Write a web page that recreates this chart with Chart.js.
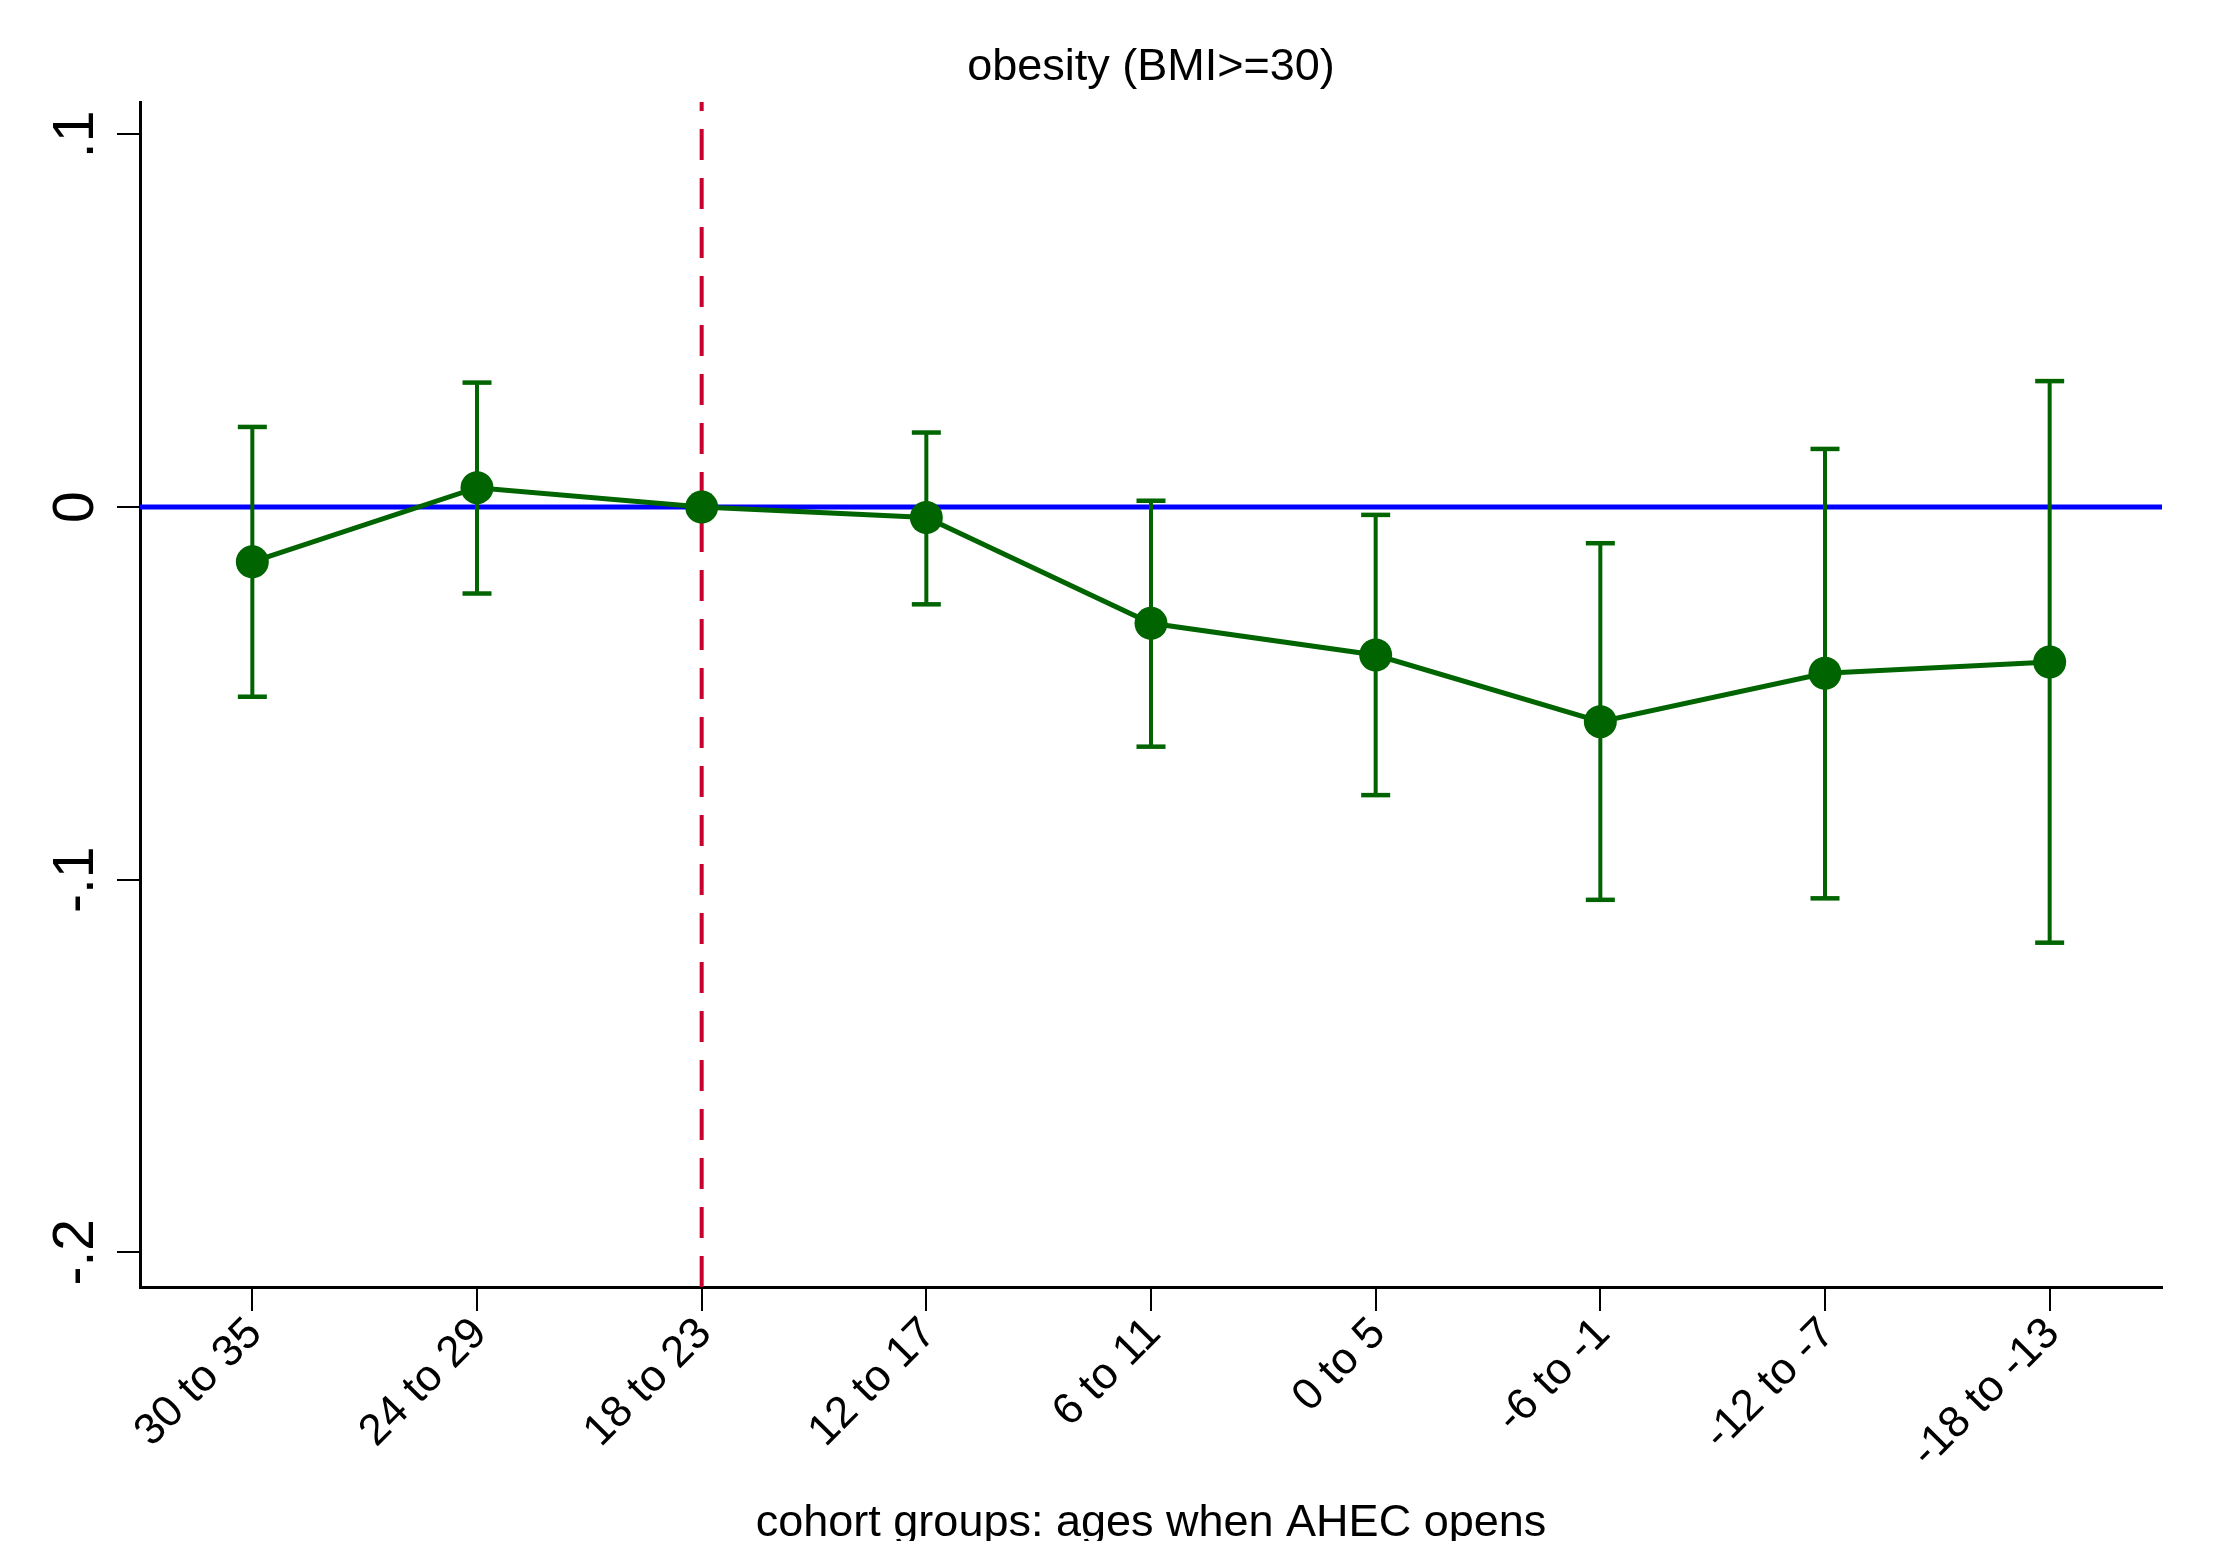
<!DOCTYPE html>
<html><head><meta charset="utf-8">
<script src="https://cdn.jsdelivr.net/npm/chart.js@4/dist/chart.umd.min.js"></script>
<style>html,body{margin:0;padding:0;background:#fff;overflow:hidden;}</style>
</head><body>
<canvas id="c" width="2213" height="1541" style="width:2213px;height:1541px;display:block"></canvas>
<script>
const categories = ['30 to 35','24 to 29','18 to 23','12 to 17','6 to 11','0 to 5','-6 to -1','-12 to -7','-18 to -13'];
const estimates = [-0.0147, 0.0052, 0, -0.0028, -0.0312, -0.0397, -0.0576, -0.0446, -0.0416];
const ciUpper = [0.0215, 0.0334, null, 0.0200, 0.0017, -0.0021, -0.0097, 0.0156, 0.0338];
const ciLower = [-0.0509, -0.0232, null, -0.0261, -0.0643, -0.0773, -0.1054, -0.1050, -0.1169];
const yTickValues = [-0.2, -0.1, 0, 0.1];
const yTickLabels = ['-.2', '-.1', '0', '.1'];
const yMin = -0.2093, yMax = 0.1087;
const xMin = -0.5, xMax = 8.5;
const zeroLine = 0;
const referenceCategory = '18 to 23';
const titleText = 'obesity (BMI>=30)';
const xTitleText = 'cohort groups: ages when AHEC opens';

const FONT = "'Liberation Sans', Arial, sans-serif";
const GREEN = '#006400';
const refIndex = categories.indexOf(referenceCategory);

const pointData = categories.map((c, i) => ({x: i, y: estimates[i]}));
const whiskerData = [];
categories.forEach((c, i) => {
  if (ciLower[i] === null) return;
  whiskerData.push({x: i, y: ciLower[i]}, {x: i, y: ciUpper[i]}, {x: i, y: null});
});
const capData = [];
categories.forEach((c, i) => {
  if (ciLower[i] === null) return;
  capData.push({x: i, y: ciLower[i]}, {x: i, y: ciUpper[i]});
});

new Chart(document.getElementById('c'), {
  type: 'line',
  data: {
    datasets: [
      {data: pointData, borderColor: GREEN, backgroundColor: GREEN, borderWidth: 5,
       pointRadius: 16.5, pointHoverRadius: 16.5, pointBorderWidth: 0, tension: 0},
      {data: capData, showLine: false, pointStyle: 'line', pointRadius: 14.5, pointHoverRadius: 14.5,
       borderColor: GREEN, pointBorderColor: GREEN, pointBorderWidth: 4.5},
      {data: whiskerData, borderColor: GREEN, borderWidth: 4, pointRadius: 0, spanGaps: false},
      {data: [{x: xMin, y: zeroLine}, {x: xMax, y: zeroLine}], borderColor: '#0000ff', borderWidth: 5, pointRadius: 0},
      {data: [{x: refIndex, y: yMax}, {x: refIndex, y: yMin}], borderColor: '#c8002d', borderWidth: 4,
       borderDash: [31, 18], borderDashOffset: 22, pointRadius: 0}
    ]
  },
  options: {
    responsive: false, animation: false, devicePixelRatio: 1,
    layout: {padding: {left: 0, right: 51, top: 0, bottom: 0}},
    plugins: {
      legend: {display: false}, tooltip: {enabled: false},
      title: {display: true, text: titleText, fullSize: false, color: '#000',
              font: {family: FONT, size: 45, weight: 'normal', lineHeight: 1.2},
              padding: {top: 41, bottom: 7}}
    },
    scales: {
      x: {
        type: 'linear', min: xMin, max: xMax,
        afterBuildTicks: s => { s.ticks = categories.map((c, i) => ({value: i})); },
        afterFit: s => { s.height = 254; },
        grid: {display: true, drawOnChartArea: false, drawTicks: true, tickLength: 24, color: '#000', lineWidth: 2},
        border: {display: true, color: '#000', width: 3},
        ticks: {color: '#000', font: {family: FONT, size: 44}, minRotation: 45, maxRotation: 45, padding: -3,
                labelOffset: 3, autoSkip: false, callback: v => categories[v]},
        title: {display: true, text: xTitleText, color: '#000', font: {family: FONT, size: 45, lineHeight: 0.6},
                padding: {top: 0, bottom: 4}}
      },
      y: {
        type: 'linear', min: yMin, max: yMax,
        afterBuildTicks: s => { s.ticks = yTickValues.map(v => ({value: v})); },
        afterFit: s => { s.width = 140; },
        grid: {display: true, drawOnChartArea: false, drawTicks: true, tickLength: 23, color: '#000', lineWidth: 2},
        border: {display: true, color: '#000', width: 3},
        ticks: {color: '#000', font: {family: FONT, size: 57}, minRotation: 90, maxRotation: 90,
                crossAlign: 'center', padding: 6, autoSkip: false,
                callback: (v, i) => yTickLabels[yTickValues.indexOf(v)]}
      }
    }
  }
});
</script>
</body></html>
